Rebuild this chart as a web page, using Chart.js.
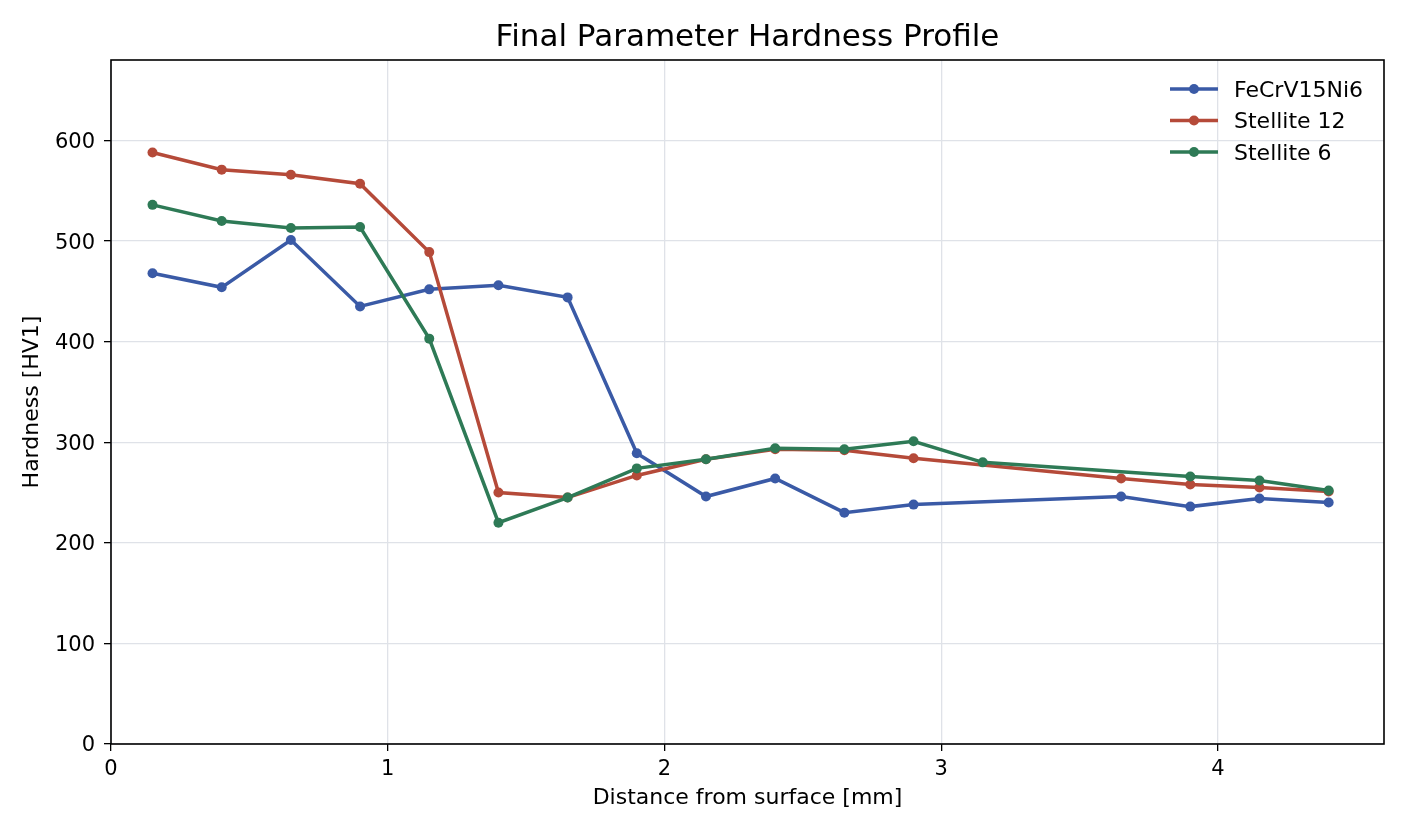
<!DOCTYPE html>
<html>
<head>
<meta charset="utf-8">
<script src="https://cdn.jsdelivr.net/npm/chart.js@4.4.0/dist/chart.umd.min.js"></script>
<style>
  html, body { margin: 0; padding: 0; background: #fff; }
  #wrap { width: 1408px; height: 832px; }
</style>
</head>
<body>
<div id="wrap"><canvas id="hardness" width="1408" height="832"></canvas></div>
<script>
var chartTitle = "Final Parameter Hardness Profile";
var seriesNames = ["FeCrV15Ni6", "Stellite 12", "Stellite 6"];

var feDist = [0.15, 0.4, 0.65, 0.9, 1.15, 1.4, 1.65, 1.9, 2.15, 2.4, 2.65, 2.9, 3.65, 3.9, 4.15, 4.4];
var feHard = [468, 454, 501, 435, 452, 456, 444, 289, 246, 264, 230, 238, 246, 236, 244, 240];

var st12Dist = [0.15, 0.4, 0.65, 0.9, 1.15, 1.4, 1.65, 1.9, 2.15, 2.4, 2.65, 2.9, 3.65, 3.9, 4.15, 4.4];
var st12Hard = [588, 571, 566, 557, 489, 250, 245, 267, 283, 293, 292, 284, 264, 258, 255, 251];

var st6Dist = [0.15, 0.4, 0.65, 0.9, 1.15, 1.4, 1.65, 1.9, 2.15, 2.4, 2.65, 2.9, 3.15, 3.9, 4.15, 4.4];
var st6Hard = [536, 520, 513, 514, 403, 220, 245, 274, 283, 294, 293, 301, 280, 266, 262, 252];

var xTicks = [0, 1, 2, 3, 4];
var yTicks = [0, 100, 200, 300, 400, 500, 600];

var colors = ['#3a5aa6', '#b54a39', '#2e7a56'];
var FONT = "'DejaVu Sans', sans-serif";

function toPoints(xs, ys) {
    var pts = [];
    for (var i = 0; i < xs.length; i++) {
        pts.push({x: xs[i], y: ys[i]});
    }
    return pts;
}

function makeSet(i, xs, ys) {
    return {
        label: seriesNames[i],
        data: toPoints(xs, ys),
        borderColor: colors[i],
        backgroundColor: colors[i],
        pointBackgroundColor: colors[i],
        pointBorderColor: colors[i],
        borderWidth: 3.5,
        pointRadius: 5,
        pointBorderWidth: 0,
        fill: false,
        tension: 0,
        showLine: true,
        order: 2 - i
    };
}

// title over the plot, black box round it, legend in the upper right corner
var frame = {
    id: 'frame',
    afterDraw: function (chart) {
        var ctx = chart.ctx, a = chart.chartArea;
        ctx.save();
        ctx.strokeStyle = '#000';
        ctx.lineWidth = 1.6;
        ctx.strokeRect(a.left, a.top, a.right - a.left, a.bottom - a.top);

        ctx.fillStyle = '#000';
        ctx.font = "31px " + FONT;
        ctx.textAlign = 'center';
        ctx.textBaseline = 'middle';
        ctx.fillText(chartTitle, (a.left + a.right) / 2, 38);

        var x0 = 1170, y0 = 89, step = 31.5;
        ctx.font = "22px " + FONT;
        ctx.textAlign = 'left';
        for (var i = 0; i < seriesNames.length; i++) {
            var y = y0 + i * step;
            ctx.strokeStyle = colors[i];
            ctx.lineWidth = 3.5;
            ctx.beginPath();
            ctx.moveTo(x0, y);
            ctx.lineTo(x0 + 48, y);
            ctx.stroke();
            ctx.fillStyle = colors[i];
            ctx.beginPath();
            ctx.arc(x0 + 24, y, 5, 0, Math.PI * 2);
            ctx.fill();
            ctx.fillStyle = '#000';
            ctx.fillText(seriesNames[i], x0 + 64, y + 2);
        }
        ctx.restore();
    }
};

function makeChart() {
    var canvas = document.getElementById("hardness");

    var chartData = {
        datasets: [
            makeSet(0, feDist, feHard),
            makeSet(1, st12Dist, st12Hard),
            makeSet(2, st6Dist, st6Hard)
        ]
    };

    var chartOptions = {
        responsive: false,
        animation: false,
        layout: {padding: {left: 0, right: 24, top: 60, bottom: 0}},
        plugins: {
            legend: {display: false},
            tooltip: {enabled: false},
            title: {display: false}
        },
        scales: {
            x: {
                type: 'linear',
                min: 0,
                max: 4.6,
                afterBuildTicks: function (axis) {
                    axis.ticks = xTicks.map(function (v) { return {value: v}; });
                },
                afterFit: function (axis) { axis.height = 88; },
                grid: {color: '#dfe2e8', lineWidth: 1.3, tickColor: '#000', tickLength: 7, drawTicks: true},
                border: {display: false},
                ticks: {color: '#000', font: {family: FONT, size: 21}, padding: 6, maxRotation: 0},
                title: {
                    display: true,
                    text: 'Distance from surface [mm]',
                    color: '#000',
                    font: {family: FONT, size: 22},
                    padding: {top: 0, bottom: 21}
                }
            },
            y: {
                type: 'linear',
                min: 0,
                max: 680,
                afterBuildTicks: function (axis) {
                    axis.ticks = yTicks.map(function (v) { return {value: v}; });
                },
                afterFit: function (axis) { axis.width = 111; },
                grid: {color: '#dfe2e8', lineWidth: 1.3, tickColor: '#000', tickLength: 7, drawTicks: true},
                border: {display: false},
                ticks: {color: '#000', font: {family: FONT, size: 21}, padding: 9, labelOffset: 2},
                title: {
                    display: true,
                    text: 'Hardness [HV1]',
                    color: '#000',
                    font: {family: FONT, size: 22},
                    padding: {top: 19, bottom: 0}
                }
            }
        }
    };

    new Chart(canvas, {
        type: 'line',
        data: chartData,
        options: chartOptions,
        plugins: [frame]
    });
}

document.addEventListener('DOMContentLoaded', makeChart);
</script>
</body>
</html>
